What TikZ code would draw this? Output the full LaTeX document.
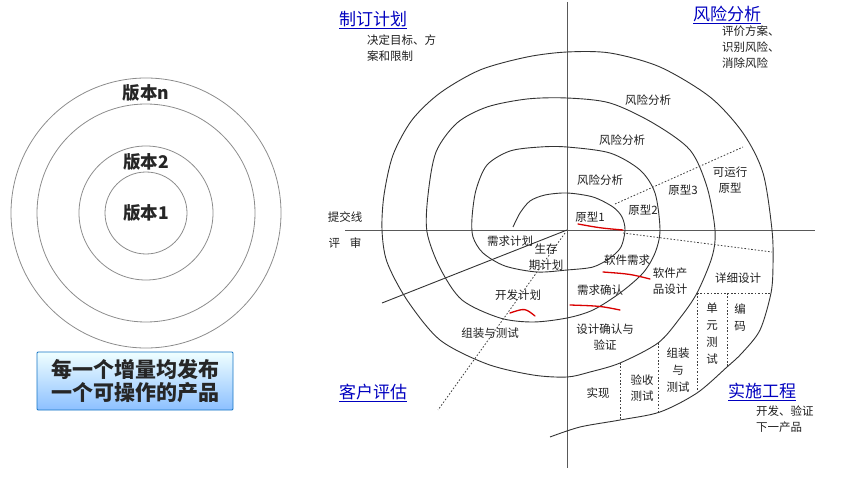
\documentclass[tikz,border=0pt]{standalone}
\usepackage{fontspec}
\setmainfont{Noto Sans CJK SC}
\usetikzlibrary{calc, shapes, positioning}

\tikzset{
  spiral/.style={line width=0.9pt, black!80},
  sector/.style={line width=0.8pt, black!75, dash pattern=on 1.6pt off 1.8pt},
  axis/.style={line width=0.9pt, black!65},
  ring/.style={line width=0.8pt, black!45},
  lbl/.style={font=\fontsize{11.5}{16}\selectfont, text=black!88, inner sep=0pt, align=center},
  quad/.style={font=\fontsize{17}{20}\selectfont, text=blue!75!black, inner sep=1pt},
  ver/.style={font=\bfseries\fontsize{17.5}{19}\selectfont, text=black!85, inner sep=0pt},
  redmark/.style={red!85!black, line width=1.3pt, line cap=round},
}

\begin{document}
\begin{tikzpicture}[x=1pt,y=-1pt]
  \useasboundingbox (0,0) rectangle (842,478);

  % Versions
  \foreach \r in {41,67,109,135}
    \draw[ring] (146,213) circle[radius=\r pt];
  \node[ver] (vn) at (146,93) {版本n};
  \node[ver] (v2) at (146,162) {版本2};
  \node[ver] (v1) at (146,213) {版本1};

  % Note box
  \node[draw=cyan!55!blue, line width=0.8pt, top color=cyan!6, bottom color=cyan!45!blue!45,
        minimum width=196pt, minimum height=58pt, rounded corners=1pt, align=center,
        font=\bfseries\fontsize{21}{23}\selectfont, text=black!85] (note) at (135,381)
        {每一个增量均发布\\一个可操作的产品};

  % Axes
  \coordinate (o) at (567,230);
  \draw[axis] (567,2) -- (567,468);
  \draw[axis] (345,230) -- (815,230);

  % Spiral
  \draw[spiral] plot[smooth, tension=0.5] coordinates {
    (513,227) (520,213) (530,201) (545,195) (567,193) (593,197) (613,207) (622,217) (625,230)
    (621,247) (610,258) (593,267) (567,270) (537,272) (505,266) (483,253) (473,237) (472,218)
    (476,190) (487,165) (510,151) (540,147) (567,147) (610,153) (640,170) (655,193) (660,230)
    (655,253) (643,273) (620,293) (593,310) (567,318) (533,322) (500,318) (462,300) (440,268)
    (427,232) (428,195) (436,152) (457,123) (487,107) (527,99) (567,98) (610,103) (653,123)
    (690,150) (707,187) (715,230) (712,257) (697,293) (680,318) (658,343) (620,363) (590,372)
    (567,377) (533,375) (487,364) (440,340) (407,300) (387,262) (382,230) (384,195) (393,155)
    (412,120) (440,93) (480,70) (527,57) (567,52) (610,53) (660,67) (710,97) (743,133) (763,173)
    (772,230) (773,265) (771,293) (760,330) (742,353) (727,367) (697,393) (660,412) (620,420)
    (580,427) (550,437)};

  % Radial lines
  \draw[spiral] (o) -- (382,303);
  \draw[sector] (565,233) -- (438,410);
  \draw[sector] (615,204) -- (743,147);
  \draw[sector] (623,233) -- (772,252);
  \draw[sector] (697,293) -- (771,293);
  \draw[sector] (697,293) -- (697,393);
  \draw[sector] (727,293) -- (727,366);
  \draw[sector] (658,343) -- (658,412);
  \draw[sector] (620,363) -- (620,420);

  % Quadrant titles
  \node[quad] (plan) at (373,20) {\underline{制订计划}};
  \node[lbl, align=left, anchor=north west] (plannote) at (367,35) {决定目标、方\\案和限制};
  \node[quad] (risk) at (727,15) {\underline{风险分析}};
  \node[lbl, align=left, anchor=north west] (risknote) at (722,26) {评价方案、\\识别风险、\\消除风险};
  \node[quad] (eval) at (373,393) {\underline{客户评估}};
  \node[quad] (eng) at (762,392) {\underline{实施工程}};
  \node[lbl, align=left, anchor=north west] (engnote) at (756,406) {开发、验证\\下一产品};

  % Labels
  \node[lbl] (r3) at (648,100) {风险分析};
  \node[lbl] (r2) at (622,140) {风险分析};
  \node[lbl] (r1) at (600,180) {风险分析};
  \node[lbl] (p1) at (590,217) {原型1};
  \node[lbl] (p2) at (643,210) {原型2};
  \node[lbl] (p3) at (683,190) {原型3};
  \node[lbl] (pr) at (730,180) {可运行\\原型};
  \node[lbl] (commit) at (345,217) {提交线};
  \node[lbl] (review) at (345,243) {评\hspace{10pt}审};
  \node[lbl] (reqplan) at (510,241) {需求计划};
  \node[lbl] (life) at (546,257) {生存\\期计划};
  \node[lbl] (devplan) at (518,295) {开发计划};
  \node[lbl] (integ) at (490,333) {组装与测试};
  \node[lbl] (swreq) at (627,260) {软件需求};
  \node[lbl] (reqok) at (600,290) {需求确认};
  \node[lbl] (swdes) at (670,281) {软件产\\品设计};
  \node[lbl] (detail) at (738,278) {详细设计};
  \node[lbl] (desok) at (605,337) {设计确认与\\验证};
  \node[lbl, font=\fontsize{11.5}{17}\selectfont] (unit) at (712,334) {单\\元\\测\\试};
  \node[lbl, font=\fontsize{11.5}{17}\selectfont] (code) at (740,318) {编\\码};
  \node[lbl, font=\fontsize{11.5}{17}\selectfont] (integ2) at (678,370) {组装\\与\\测试};
  \node[lbl] (accept) at (642,388) {验收\\测试};
  \node[lbl] (impl) at (598,393) {实现};

  % Handwritten marks
  \draw[redmark] (578,224) .. controls (600,228) .. (623,230);
  \draw[redmark] (603,272) .. controls (630,274) .. (650,279);
  \draw[redmark] (570,305) .. controls (600,306) .. (620,310);
  \draw[redmark] (510,313) .. controls (525,308) .. (535,316);
\end{tikzpicture}
\end{document}
